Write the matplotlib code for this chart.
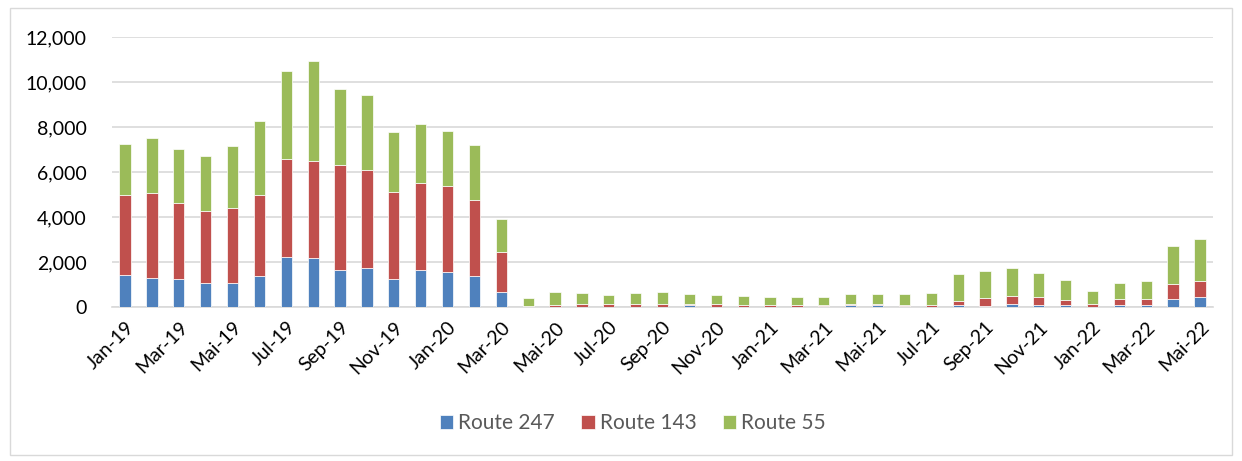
"""Stacked monthly bars for three routes, Jan-19 to Mai-22."""

import numpy as np
import matplotlib
matplotlib.use("Agg")
import matplotlib.pyplot as plt
from matplotlib.patches import Rectangle
from matplotlib.ticker import FuncFormatter

# month labels (German-style "Mai")
months = ["Jan", "Feb", "Mar", "Apr", "Mai", "Jun", "Jul", "Aug", "Sep", "Okt", "Nov", "Dez"]
labels = []
for yr in ["19", "20", "21", "22"]:
    for m in months:
        labels.append(f"{m}-{yr}")
labels = labels[:41]

route_247 = [1420, 1290, 1240, 1070, 1070, 1380, 2220, 2180, 1660, 1750, 1240, 1660,
             1590, 1380, 670, 10, 20, 30, 30, 30, 30, 90, 30, 20,
             20, 20, 60, 90, 90, 70, 20, 90, 60, 160, 120, 90,
             20, 90, 100, 360, 450]
route_143 = [3570, 3780, 3380, 3210, 3330, 3610, 4370, 4310, 4680, 4340, 3900, 3850,
             3800, 3380, 1770, 60, 80, 130, 120, 120, 120, 60, 130, 80,
             70, 100, 60, 70, 70, 50, 100, 180, 340, 350, 360, 240,
             130, 270, 260, 670, 700]
route_55 = [2270, 2440, 2400, 2450, 2790, 3280, 3900, 4470, 3350, 3360, 2650, 2650,
            2430, 2470, 1490, 340, 570, 460, 380, 470, 520, 440, 390, 400,
            380, 320, 350, 430, 430, 470, 520, 1210, 1200, 1220, 1060, 880,
            570, 740, 800, 1690, 1880]

plt.rcParams["font.family"] = ["Lato", "DejaVu Sans"]

fig = plt.figure(figsize=(12.42, 4.61), dpi=100)
ax = fig.add_axes([0.0899, 0.3334, 0.8871, 0.5856])

x = np.arange(len(labels))
b247 = np.array(route_247)
b143 = np.array(route_143)
b55 = np.array(route_55)
w = 0.42
ax.bar(x, b247, w, color="#4F81BD", edgecolor="white", linewidth=0.5, label="Route 247", zorder=3)
ax.bar(x, b143, w, bottom=b247, color="#C0504D", edgecolor="white", linewidth=0.5,
       label="Route 143", zorder=3)
ax.bar(x, b55, w, bottom=b247 + b143, color="#9BBB59", edgecolor="white", linewidth=0.5,
       label="Route 55", zorder=3)

ax.set_xlim(-0.5, len(labels) - 0.5)
ax.set_ylim(0, 12000)
ax.set_yticks(range(0, 12001, 2000))
ax.yaxis.set_major_formatter(FuncFormatter(lambda v, p: f"{int(v):,}"))
ax.grid(axis="y", color="#D9D9D9", linewidth=1.2, zorder=0)
for s in ["top", "right", "left"]:
    ax.spines[s].set_visible(False)
ax.spines["bottom"].set_color("#D9D9D9")
ax.spines["bottom"].set_linewidth(1.2)

ax.set_xticks(x[::2])
ax.set_xticklabels(labels[::2], rotation=45, ha="right", rotation_mode="anchor", fontsize=14)
ax.tick_params(axis="x", length=0, pad=8)
ax.tick_params(axis="y", length=0, pad=18, labelsize=14)

ax.legend(loc="center", bbox_to_anchor=(0.473, -0.43), ncol=3, frameon=False, fontsize=15,
          handlelength=0.65, handleheight=0.65, handletextpad=0.25, columnspacing=1.25,
          labelcolor="#595959")

# light frame around the chart area
fig.patches.append(Rectangle((10 / 1242, 6 / 461), 1222 / 1242, 447 / 461,
                             transform=fig.transFigure, fill=False,
                             edgecolor="#D9D9D9", linewidth=1))

fig.savefig("out.png", dpi=100)
